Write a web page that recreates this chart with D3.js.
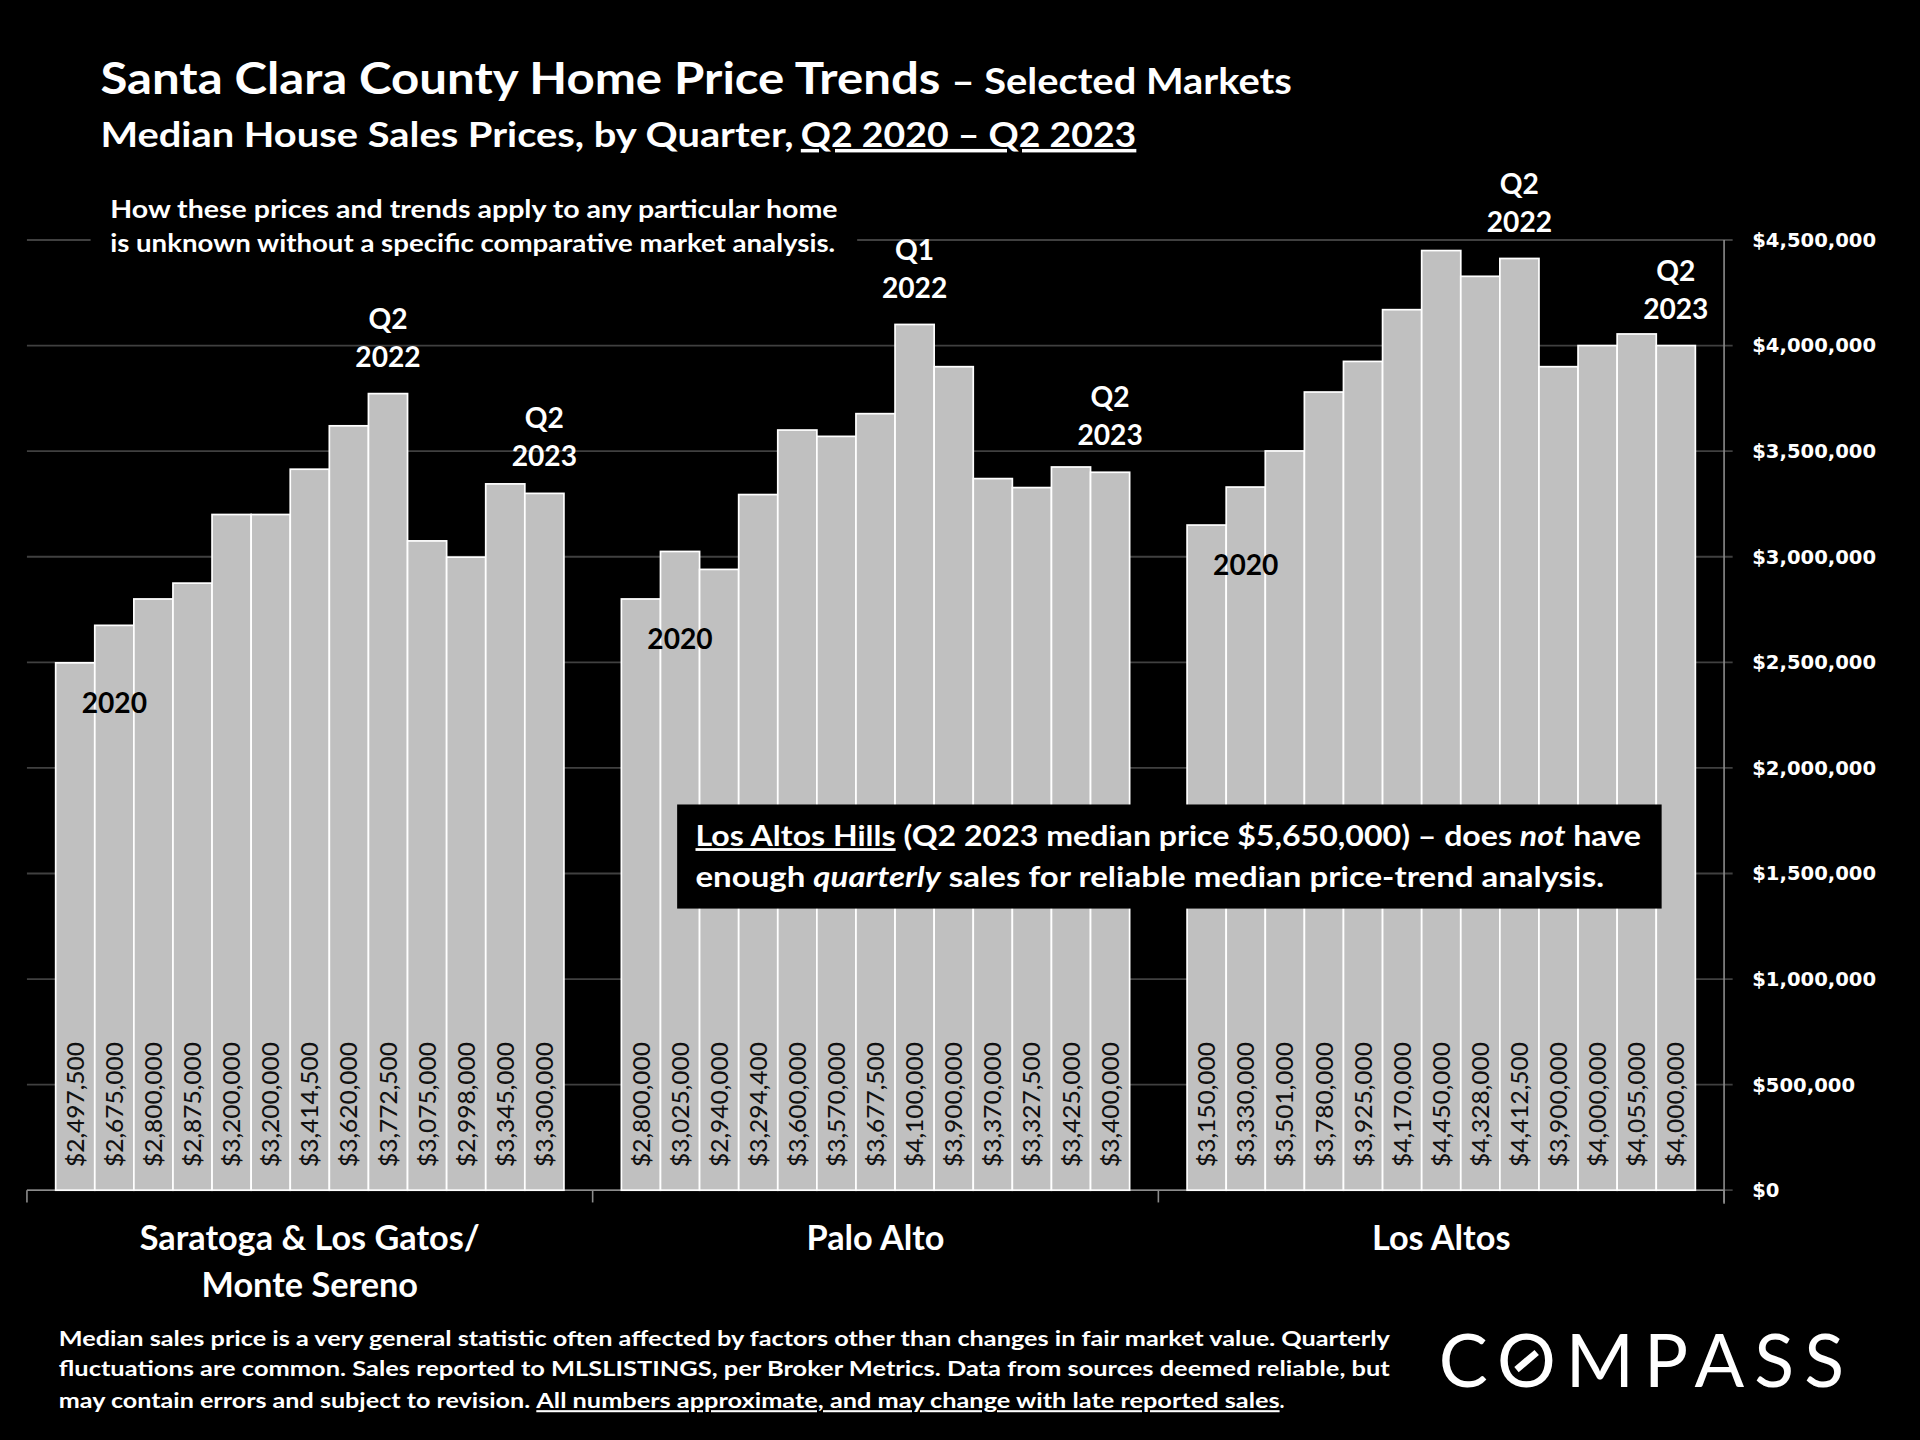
<!DOCTYPE html>
<html>
<head>
<meta charset="utf-8">
<script src="https://cdn.jsdelivr.net/npm/d3@7"></script>
<style>
html, body { margin: 0; padding: 0; background: #000; }
svg { display: block; }
</style>
</head>
<body>
<script>
// ---------------- DATA ----------------
const groupNames = ["Saratoga & Los Gatos/ Monte Sereno", "Palo Alto", "Los Altos"];
const groupLabelLines = [["Saratoga & Los Gatos/", "Monte Sereno"], ["Palo Alto"], ["Los Altos"]];
const quarters = ["Q2 2020", "Q3 2020", "Q4 2020", "Q1 2021", "Q2 2021", "Q3 2021", "Q4 2021",
                  "Q1 2022", "Q2 2022", "Q3 2022", "Q4 2022", "Q1 2023", "Q2 2023"];
const saratogaPrices = [2497500, 2675000, 2800000, 2875000, 3200000, 3200000, 3414500, 3620000, 3772500, 3075000, 2998000, 3345000, 3300000];
const paloAltoPrices = [2800000, 3025000, 2940000, 3294400, 3600000, 3570000, 3677500, 4100000, 3900000, 3370000, 3327500, 3425000, 3400000];
const losAltosPrices = [3150000, 3330000, 3501000, 3780000, 3925000, 4170000, 4450000, 4328000, 4412500, 3900000, 4000000, 4055000, 4000000];
const yTickValues = [0, 500000, 1000000, 1500000, 2000000, 2500000, 3000000, 3500000, 4000000, 4500000];
// callouts: which bar they refer to and their text lines
const peakCallouts = [
  { group: 0, quarter: "Q2 2022", lines: ["Q2", "2022"] },
  { group: 0, quarter: "Q2 2023", lines: ["Q2", "2023"] },
  { group: 1, quarter: "Q1 2022", lines: ["Q1", "2022"] },
  { group: 1, quarter: "Q2 2023", lines: ["Q2", "2023"] },
  { group: 2, quarter: "Q2 2022", lines: ["Q2", "2022"] },
  { group: 2, quarter: "Q2 2023", lines: ["Q2", "2023"] }
];
const startCallouts = [
  { group: 0, label: "2020" },
  { group: 1, label: "2020" },
  { group: 2, label: "2020" }
];

// ---------------- SETUP ----------------
const seriesByGroup = [saratogaPrices, paloAltoPrices, losAltosPrices];
const W = 1568, H = 1176;
const svg = d3.select("body").append("svg")
  .attr("width", 1920).attr("height", 1440)
  .attr("viewBox", `0 0 ${W} ${H}`);
svg.append("rect").attr("width", W).attr("height", H).attr("fill", "#000");

const plot = { left: 22, right: 1408, top: 196, bottom: 972 };
const y = d3.scaleLinear().domain([0, 4500000]).range([plot.bottom, plot.top]);
const x0 = d3.scaleBand().domain(groupNames).range([plot.left, plot.right]);
const x1 = d3.scaleBand().domain(quarters).range([0, x0.bandwidth()]).paddingInner(0).paddingOuter(0.735);

function txt(parent, s, o) {
  const t = parent.append("text")
    .attr("x", o.x).attr("y", o.y)
    .attr("font-family", o.font || "Lato")
    .attr("font-weight", o.weight || 700)
    .attr("font-size", o.size)
    .attr("fill", o.fill || "#fff")
    .attr("text-anchor", o.anchor || "start")
    .text(s);
  if (o.len) t.attr("textLength", o.len).attr("lengthAdjust", o.adjust || "spacingAndGlyphs");
  if (o.underline) t.attr("text-decoration", "underline");
  return t;
}

// ---------------- TITLES ----------------
txt(svg, "Santa Clara County Home Price Trends", { x: 82, y: 77, size: 36, len: 686 });
txt(svg, "– Selected Markets", { x: 777, y: 77, size: 30, len: 278 });
txt(svg, "Median House Sales Prices, by Quarter,", { x: 82, y: 120, size: 28.5, len: 566 });
txt(svg, "Q2 2020 – Q2 2023", { x: 654, y: 120, size: 28.5, len: 274, underline: true });

// ---------------- GRID + AXES ----------------
svg.append("g").selectAll("line").data(yTickValues).join("line")
  .attr("x1", plot.left).attr("x2", plot.right + 7)
  .attr("y1", d => y(d)).attr("y2", d => y(d))
  .attr("stroke", "#404040").attr("stroke-width", 1.5);

const yAxis = d3.axisRight(y).tickValues(yTickValues).tickSize(0).tickPadding(23)
  .tickFormat(d => "$" + d3.format(",")(d));
const gy = svg.append("g").attr("transform", `translate(${plot.right},0)`).call(yAxis);
gy.select(".domain").remove();
gy.selectAll("text").attr("fill", "#fff").attr("font-family", "DejaVu Sans")
  .attr("font-weight", "bold").attr("font-size", 16);

svg.append("line").attr("x1", plot.right).attr("x2", plot.right)
  .attr("y1", y(4500000)).attr("y2", plot.bottom + 11)
  .attr("stroke", "#8c8c8c").attr("stroke-width", 1.3);

svg.append("line").attr("x1", plot.left).attr("x2", plot.right)
  .attr("y1", plot.bottom).attr("y2", plot.bottom)
  .attr("stroke", "#8c8c8c").attr("stroke-width", 1.3);
const boundaries = groupNames.map(g => x0(g)).concat([x0.range()[1]]);
svg.append("g").selectAll("line").data(boundaries).join("line")
  .attr("x1", d => d).attr("x2", d => d)
  .attr("y1", plot.bottom).attr("y2", plot.bottom + 10)
  .attr("stroke", "#8c8c8c").attr("stroke-width", 1.3);

// ---------------- NOTE (top-left) ----------------
svg.append("rect").attr("x", 74).attr("y", 150).attr("width", 626).attr("height", 66).attr("fill", "#000");
txt(svg, "How these prices and trends apply to any particular home", { x: 90, y: 178, size: 20, len: 594 });
txt(svg, "is unknown without a specific comparative market analysis.", { x: 90, y: 206, size: 20, len: 592 });

// ---------------- BARS ----------------
const barG = svg.append("g");
groupNames.forEach((g, gi) => {
  const data = seriesByGroup[gi].map((v, i) => ({ q: quarters[i], v }));
  const gg = barG.append("g").attr("transform", `translate(${x0(g)},0)`);
  gg.selectAll("rect").data(data).join("rect")
    .attr("x", d => x1(d.q)).attr("width", x1.bandwidth())
    .attr("y", d => y(d.v)).attr("height", d => y(0) - y(d.v))
    .attr("fill", "#c0c0c0").attr("stroke", "#fff").attr("stroke-width", 1.4);
  gg.selectAll("text.val").data(data).join("text").attr("class", "val")
    .attr("transform", d => `translate(${x1(d.q) + x1.bandwidth() / 2 + 7},${y(0) - 19}) rotate(-90)`)
    .attr("font-family", "Lato").attr("font-weight", 500).attr("font-size", 18.5)
    .attr("fill", "#111")
    .attr("textLength", 102).attr("lengthAdjust", "spacingAndGlyphs")
    .text(d => "$" + d3.format(",")(d.v));
});

// ---------------- CALLOUTS ----------------
peakCallouts.forEach(c => {
  const g = groupNames[c.group];
  const qi = quarters.indexOf(c.quarter);
  const v = seriesByGroup[c.group][qi];
  const cx = x0(g) + x1(c.quarter) + x1.bandwidth() / 2;
  const base = y(v) - 22;
  c.lines.forEach((line, li) => {
    txt(svg, line, { x: cx, y: base - (c.lines.length - 1 - li) * 31, size: 23, anchor: "middle" });
  });
});
startCallouts.forEach(c => {
  const g = groupNames[c.group];
  const first = seriesByGroup[c.group][0];
  const cx = x0(g) + x1(quarters[1]) + x1.bandwidth() / 2;
  txt(svg, c.label, { x: cx, y: y(first) + 41, size: 23, anchor: "middle", fill: "#000" });
});

// ---------------- LOS ALTOS HILLS BOX ----------------
svg.append("rect").attr("x", 553).attr("y", 657).attr("width", 804).attr("height", 85).attr("fill", "#000");
const b1 = svg.append("text").attr("x", 568).attr("y", 691)
  .attr("font-family", "Lato").attr("font-weight", 700).attr("font-size", 23).attr("fill", "#fff")
  .attr("textLength", 772).attr("lengthAdjust", "spacingAndGlyphs");
b1.append("tspan").attr("text-decoration", "underline").text("Los Altos Hills");
b1.append("tspan").text(" (Q2 2023 median price $5,650,000) – does ");
b1.append("tspan").attr("font-style", "italic").text("not");
b1.append("tspan").text(" have");
const b2 = svg.append("text").attr("x", 568).attr("y", 724)
  .attr("font-family", "Lato").attr("font-weight", 700).attr("font-size", 23).attr("fill", "#fff")
  .attr("textLength", 742).attr("lengthAdjust", "spacingAndGlyphs");
b2.append("tspan").text("enough ");
b2.append("tspan").attr("font-style", "italic").text("quarterly");
b2.append("tspan").text(" sales for reliable median price-trend analysis.");

// ---------------- GROUP LABELS ----------------
groupNames.forEach((g, gi) => {
  const cx = x0(g) + x0.bandwidth() / 2;
  groupLabelLines[gi].forEach((line, li) => {
    txt(svg, line, { x: cx, y: 1021 + li * 38, size: 28, anchor: "middle" });
  });
});

// ---------------- FOOTER ----------------
txt(svg, "Median sales price is a very general statistic often affected by factors other than changes in fair market value. Quarterly",
  { x: 48, y: 1099, size: 17, len: 1087 });
txt(svg, "fluctuations are common. Sales reported to MLSLISTINGS, per Broker Metrics. Data from sources deemed reliable, but",
  { x: 48, y: 1124, size: 17, len: 1087 });
txt(svg, "may contain errors and subject to revision.", { x: 48, y: 1150, size: 17, len: 385 });
txt(svg, "All numbers approximate, and may change with late reported sales", { x: 438, y: 1150, size: 17, len: 607, underline: true });
txt(svg, ".", { x: 1045, y: 1150, size: 17 });

// ---------------- LOGO ----------------
const logo = txt(svg, "COMPASS", { x: 1175, y: 1133, size: 60, weight: 400, len: 331, adjust: "spacing" });
try {
  const ext = logo.node().getExtentOfChar(1);
  const cx = ext.x + ext.width / 2, cy = 1111;
  svg.append("line").attr("x1", cx - 8).attr("y1", cy + 7.5).attr("x2", cx + 8.5).attr("y2", cy - 6.5)
    .attr("stroke", "#fff").attr("stroke-width", 5.5);
} catch (e) {}
</script>
</body>
</html>
